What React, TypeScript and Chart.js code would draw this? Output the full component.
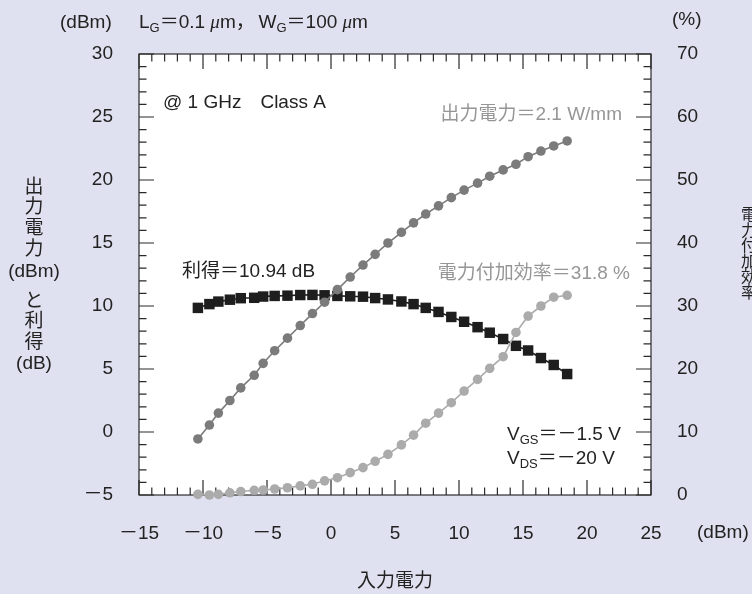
import React, { useEffect, useRef } from "react";
import { Chart, registerables } from "chart.js";

Chart.register(...registerables);

// ---- data ----
const PIN = [-10.4, -9.5, -8.8, -7.9, -7.05, -6.0, -5.3, -4.4, -3.4, -2.4, -1.45, -0.5, 0.5, 1.5, 2.5, 3.45, 4.45, 5.5, 6.45, 7.4, 8.4, 9.4, 10.4, 11.45, 12.4, 13.45, 14.45, 15.4, 16.4, 17.4, 18.45];
const POUT = [-0.55, 0.55, 1.5, 2.5, 3.5, 4.5, 5.45, 6.45, 7.45, 8.45, 9.4, 10.3, 11.3, 12.3, 13.25, 14.1, 15.0, 15.85, 16.6, 17.3, 17.95, 18.6, 19.2, 19.75, 20.3, 20.8, 21.25, 21.85, 22.3, 22.7, 23.1];
const GAIN = [9.85, 10.15, 10.35, 10.5, 10.62, 10.65, 10.75, 10.8, 10.82, 10.87, 10.88, 10.85, 10.8, 10.77, 10.74, 10.63, 10.52, 10.36, 10.15, 9.85, 9.53, 9.13, 8.75, 8.32, 7.88, 7.38, 6.84, 6.47, 5.87, 5.32, 4.6];
const PAE = [0.1, 0.0, 0.1, 0.35, 0.55, 0.75, 0.8, 0.95, 1.15, 1.45, 1.7, 2.25, 2.75, 3.55, 4.35, 5.35, 6.45, 7.95, 9.5, 11.4, 13.0, 14.65, 16.5, 18.35, 20.1, 21.95, 25.8, 28.4, 30.0, 31.4, 31.7];

const X_RANGE = [-15, 25];
const Y_RANGE = [-5, 30];
const Y1_RANGE = [0, 70];

const LEFT_TITLE = ["出", "力", "電", "力", "(dBm)", "と", "利", "得", "(dB)"];
const RIGHT_TITLE = ["電", "力", "付", "加", "効", "率"];
const X_TITLE = "入力電力";

const FONT = '"Liberation Sans", "Noto Sans CJK JP", Arial, sans-serif';
const CJK = '"Noto Sans CJK JP", "Liberation Sans", sans-serif';
const TXT = "#222";
const GRAY_TXT = "#969696";
const MINUS = "\uFF0D";

const minus = (v: number) => String(v).replace("-", MINUS);

type Run = { t: string; sub?: boolean; italic?: boolean; size?: number; family?: string };

function drawRuns(ctx: CanvasRenderingContext2D, x: number, y: number, runs: Run[], base: number, color: string, align: "left" | "right" = "left") {
  const fontOf = (r: Run) => `${r.italic ? "italic " : ""}${r.size ?? (r.sub ? Math.round(base * 0.7) : base)}px ${r.family ?? (r.italic ? '"Liberation Serif", serif' : FONT)}`;
  let total = 0;
  for (const r of runs) { ctx.font = fontOf(r); total += ctx.measureText(r.t).width; }
  let cx = align === "right" ? x - total : x;
  ctx.fillStyle = color;
  ctx.textAlign = "left";
  ctx.textBaseline = "middle";
  for (const r of runs) {
    ctx.font = fontOf(r);
    ctx.fillText(r.t, cx, y + (r.sub ? base * 0.3 : 0));
    cx += ctx.measureText(r.t).width;
  }
}

const framePlugin = {
  id: "frameTicks",
  beforeDraw(chart: any) {
    const { ctx, chartArea: a } = chart;
    ctx.save();
    ctx.fillStyle = "#ffffff";
    ctx.fillRect(a.left, a.top, a.right - a.left, a.bottom - a.top);
    ctx.restore();
  },
  beforeDatasetsDraw(chart: any) {
    const { ctx, chartArea: a, scales } = chart;
    const LONG = 15, SHORT = 7.5;
    ctx.save();
    ctx.strokeStyle = "#2a2a2a";
    ctx.lineWidth = 1.2;
    ctx.beginPath();
    for (let v = X_RANGE[0]; v <= X_RANGE[1]; v += 1) {
      const px = scales.x.getPixelForValue(v);
      const len = v % 5 === 0 ? LONG : SHORT;
      ctx.moveTo(px, a.bottom); ctx.lineTo(px, a.bottom - len);
      ctx.moveTo(px, a.top); ctx.lineTo(px, a.top + len);
    }
    for (let v = Y_RANGE[0]; v <= Y_RANGE[1]; v += 1) {
      const py = scales.y.getPixelForValue(v);
      const len = v % 5 === 0 ? LONG : SHORT;
      ctx.moveTo(a.left, py); ctx.lineTo(a.left + len, py);
    }
    for (let v = Y1_RANGE[0]; v <= Y1_RANGE[1]; v += 2) {
      const py = scales.y1.getPixelForValue(v);
      const len = v % 10 === 0 ? LONG : SHORT;
      ctx.moveTo(a.right, py); ctx.lineTo(a.right - len, py);
    }
    ctx.stroke();
    ctx.strokeRect(a.left, a.top, a.right - a.left, a.bottom - a.top);
    ctx.restore();
  },
  afterDraw(chart: any) {
    const { ctx, chartArea: a } = chart;
    ctx.save();
    const S = 19;
    // header
    drawRuns(ctx, 60, 23, [{ t: "(dBm)" }], S, TXT);
    drawRuns(ctx, a.left, 23, [
      { t: "L" }, { t: "G", sub: true }, { t: "＝0.1 " }, { t: "μ", italic: true }, { t: "m，\u2009W" }, { t: "G", sub: true }, { t: "＝100 " }, { t: "μ", italic: true }, { t: "m" },
    ], S, TXT);
    drawRuns(ctx, 672, 20, [{ t: "(%)" }], S, TXT);
    // inside annotations
    drawRuns(ctx, 163, 103, [{ t: "@ 1 GHz\u3000Class A" }], S, TXT);
    drawRuns(ctx, 622, 115, [{ t: "出力電力＝2.1 W/mm" }], S, GRAY_TXT, "right");
    drawRuns(ctx, 182, 272, [{ t: "利得＝10.94 dB" }], S, TXT);
    drawRuns(ctx, 630, 274, [{ t: "電力付加効率＝31.8 %" }], S, GRAY_TXT, "right");
    drawRuns(ctx, 507, 435, [{ t: "V" }, { t: "GS", sub: true }, { t: "＝" + MINUS + "1.5 V" }], S, TXT);
    drawRuns(ctx, 507, 459, [{ t: "V" }, { t: "DS", sub: true }, { t: "＝" + MINUS + "20 V" }], S, TXT);
    // x unit
    drawRuns(ctx, 697, 533, [{ t: "(dBm)" }], S, TXT);
    // x title
    ctx.fillStyle = TXT;
    ctx.textAlign = "center";
    ctx.textBaseline = "middle";
    ctx.font = `${S}px ${CJK}`;
    ctx.fillText(X_TITLE, (a.left + a.right) / 2, 580);
    // left vertical title
    const leftY = [186, 206, 227, 248, 272, 300, 320, 341, 364];
    LEFT_TITLE.forEach((c, i) => {
      ctx.font = `${S}px ${c.length > 1 ? FONT : CJK}`;
      ctx.fillText(c, 34, leftY[i]);
    });
    // right vertical title (clipped by page edge)
    ctx.font = `16px ${CJK}`;
    RIGHT_TITLE.forEach((c, i) => {
      ctx.fillText(c, 749, 214 + i * 15.5);
    });
    ctx.restore();
  },
};

export default function App() {
  const ref = useRef<HTMLCanvasElement>(null);
  useEffect(() => {
    const chart = new Chart(ref.current as HTMLCanvasElement, {
      type: "line",
      data: {
        datasets: [
          {
            label: "出力電力",
            data: PIN.map((x, i) => ({ x, y: POUT[i] })),
            yAxisID: "y",
            borderColor: "#7b7b7b",
            backgroundColor: "#7b7b7b",
            pointBackgroundColor: "#7b7b7b",
            pointBorderWidth: 0,
            pointRadius: 4.8,
            borderWidth: 1.6,
            clip: false,
            order: 2,
          },
          {
            label: "利得",
            data: PIN.map((x, i) => ({ x, y: GAIN[i] })),
            yAxisID: "y",
            borderColor: "#1e1e1e",
            backgroundColor: "#1e1e1e",
            pointBackgroundColor: "#1e1e1e",
            pointStyle: "rect",
            pointBorderWidth: 0,
            pointRadius: 7.4,
            borderWidth: 1.6,
            clip: false,
            order: 3,
          },
          {
            label: "電力付加効率",
            data: PIN.map((x, i) => ({ x, y: PAE[i] })),
            yAxisID: "y1",
            borderColor: "#ababab",
            backgroundColor: "#ababab",
            pointBackgroundColor: "#ababab",
            pointBorderWidth: 0,
            pointRadius: 4.8,
            borderWidth: 1.6,
            clip: false,
            order: 1,
          },
        ],
      },
      options: {
        animation: false,
        responsive: false,
        devicePixelRatio: 1,
        layout: { padding: { top: 54, left: 0, right: 0, bottom: 0 } },
        scales: {
          x: {
            type: "linear",
            min: X_RANGE[0],
            max: X_RANGE[1],
            border: { display: false },
            grid: { display: false, drawTicks: false },
            ticks: { stepSize: 5, padding: 27, color: TXT, font: { family: FONT, size: 19 }, callback: (v: any) => minus(v), maxRotation: 0 },
            afterFit: (s: any) => { s.height = 99; },
          },
          y: {
            type: "linear",
            position: "left",
            min: Y_RANGE[0],
            max: Y_RANGE[1],
            border: { display: false },
            grid: { display: false, drawTicks: false },
            ticks: { stepSize: 5, padding: 26, color: TXT, font: { family: FONT, size: 19 }, callback: (v: any) => minus(v) },
            afterFit: (s: any) => { s.width = 139; },
          },
          y1: {
            type: "linear",
            position: "right",
            min: Y1_RANGE[0],
            max: Y1_RANGE[1],
            border: { display: false },
            grid: { display: false, drawTicks: false },
            ticks: { stepSize: 10, padding: 26, color: TXT, font: { family: FONT, size: 19 } },
            afterFit: (s: any) => { s.width = 101; },
          },
        },
        plugins: { legend: { display: false }, tooltip: { enabled: false } },
      },
      plugins: [framePlugin],
    } as any);
    return () => chart.destroy();
  }, []);
  return (
    <div style={{ position: "absolute", left: 0, top: 0, width: 752, height: 594, background: "#e0e1f0", overflow: "hidden" }}>
      <canvas ref={ref} width={752} height={594} style={{ display: "block", width: 752, height: 594 }} />
    </div>
  );
}
